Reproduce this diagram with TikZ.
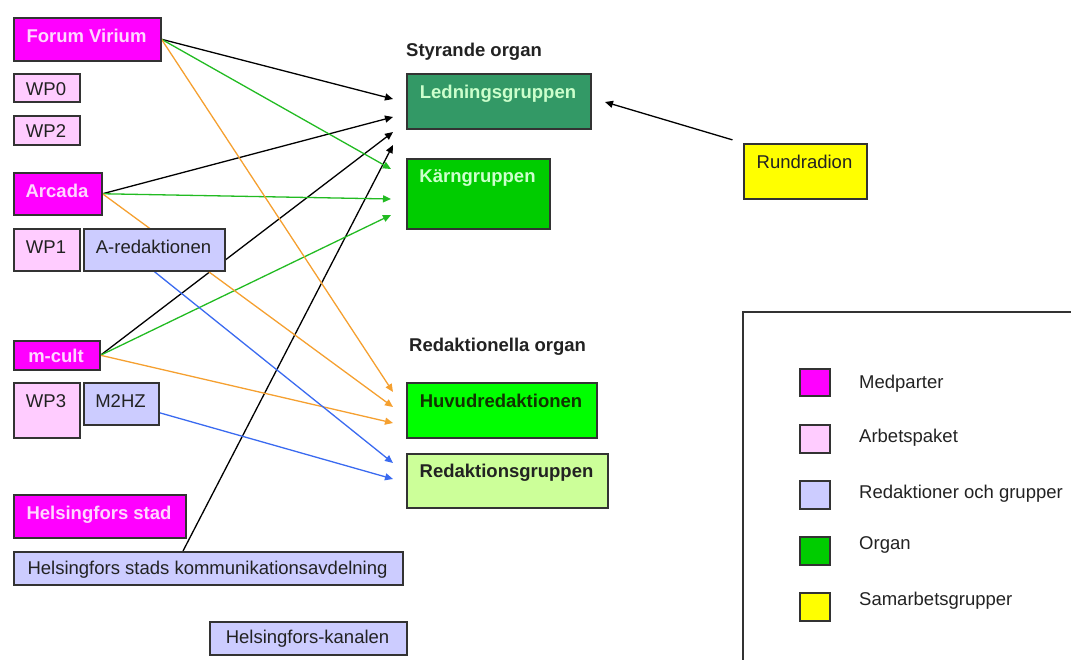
\documentclass[tikz,border=0pt]{standalone}
\usepackage{fontspec}
\setmainfont{Liberation Sans}
\usetikzlibrary{arrows.meta,calc}
\definecolor{boxline}{HTML}{333333}
\definecolor{darktext}{HTML}{222222}
\definecolor{medM}{HTML}{FF00FF}
\definecolor{medText}{HTML}{FFD6FF}
\definecolor{wpPink}{HTML}{FFCCFF}
\definecolor{redBlue}{HTML}{CCCCFF}
\definecolor{lgGreen}{HTML}{339966}
\definecolor{kgGreen}{HTML}{00CC00}
\definecolor{hrGreen}{HTML}{00FF00}
\definecolor{rgGreen}{HTML}{CCFF99}
\definecolor{rundY}{HTML}{FFFF00}
\definecolor{paleGreen}{HTML}{CCFFCC}
\definecolor{hrText}{HTML}{113300}
\definecolor{lnGreen}{HTML}{22BB22}
\definecolor{lnOrange}{HTML}{F5A030}
\definecolor{lnBlue}{HTML}{3A6AF0}
\newcommand{\fs}{\fontsize{18.5}{22}\selectfont}
\newcommand{\bx}[6]{\node[#6, minimum width={(#4-#2)*1pt}, minimum height={(#5-#3)*1pt}] (#1) at (#2,#3) {};}
\pgfdeclarelayer{bg}
\pgfsetlayers{bg,main}
\tikzset{
  box/.style={draw=boxline, line width=1.5pt, inner sep=0pt, anchor=north west},
  med/.style={box, fill=medM},
  wp/.style={box, fill=wpPink},
  red/.style={box, fill=redBlue},
  txt/.style={anchor=base, font=\fs, text=darktext, inner sep=0pt},
  btxt/.style={txt, font=\fs\bfseries},
  mtxt/.style={btxt, text=medText},
  legtxt/.style={txt, anchor=base west},
  arr/.style={line width=1.3pt, -{Triangle[length=8pt,width=7pt]}},
}
\begin{document}
\begin{tikzpicture}[x=1pt,y=-1pt]
\useasboundingbox (0,0) rectangle (1071,659);
\clip (0,0) rectangle (1071,659);

% left column boxes
\bx{fv}{13}{17}{160}{60}{med}
\bx{wp0}{13}{73}{79}{101}{wp}
\bx{wp2}{13}{115}{79}{144}{wp}
\bx{arc}{13}{172}{101}{214}{med}
\bx{wp1}{13}{228}{79}{270}{wp}
\bx{ared}{83}{228}{224}{270}{red}
\bx{mc}{13}{340}{99}{369}{med}
\bx{wp3}{13}{382}{79}{437}{wp}
\bx{m2hz}{83}{382}{158}{424}{red}
\bx{hs}{13}{494}{185}{537}{med}
\bx{hsk}{13}{551}{402}{584}{red}
\bx{hkan}{209}{621}{406}{654}{red}
% organs
\bx{lg}{406}{73}{590}{128}{box, fill=lgGreen}
\bx{kg}{406}{158}{549}{228}{box, fill=kgGreen}
\bx{hr}{406}{382}{596}{437}{box, fill=hrGreen}
\bx{rg}{406}{453}{607}{507}{box, fill=rgGreen}
\bx{rund}{743}{143}{866}{198}{box, fill=rundY}

% texts
\node[mtxt] (fvT) at (86.5,42) {Forum Virium};
\node[txt] (wp0T) at (46,95) {WP0};
\node[txt] (wp2T) at (46,137) {WP2};
\node[mtxt] (arcT) at (57,197) {Arcada};
\node[txt] (wp1T) at (46,253) {WP1};
\node[txt] (aredT) at (153.5,253) {A-redaktionen};
\node[mtxt] (mcT) at (56,362) {m-cult};
\node[txt] (wp3T) at (46,407) {WP3};
\node[txt] (m2hzT) at (120.5,407) {M2HZ};
\node[mtxt] (hsT) at (99,519) {Helsingfors stad};
\node[txt] (hskT) at (207.5,574) {Helsingfors stads kommunikationsavdelning};
\node[txt] (hkanT) at (307.5,643) {Helsingfors-kanalen};

\node[btxt, anchor=base west] (styT) at (406,56) {Styrande organ};
\node[btxt, anchor=base west] (redoT) at (409,351) {Redaktionella organ};
\node[btxt, text=paleGreen] (lgT) at (498,98) {Ledningsgruppen};
\node[btxt, text=paleGreen] (kgT) at (477.5,182) {Kärngruppen};
\node[btxt, text=hrText] (hrT) at (501,407) {Huvudredaktionen};
\node[btxt] (rgT) at (506.5,477) {Redaktionsgruppen};
\node[txt] (rundT) at (804.5,168) {Rundradion};

% legend
\draw[draw=boxline, line width=1.5pt] (743,312) rectangle (1090,680);
\bx{l1}{799}{368}{829}{395}{box, fill=medM}
\bx{l2}{799}{424}{829}{452}{box, fill=wpPink}
\bx{l3}{799}{480}{829}{508}{box, fill=redBlue}
\bx{l4}{799}{536}{829}{564}{box, fill=kgGreen}
\bx{l5}{799}{592}{829}{620}{box, fill=rundY}
\node[legtxt] (l1T) at (859,388) {Medparter};
\node[legtxt] (l2T) at (859,442) {Arbetspaket};
\node[legtxt] (l3T) at (859,498) {Redaktioner och grupper};
\node[legtxt] (l4T) at (859,549) {Organ};
\node[legtxt] (l5T) at (859,605) {Samarbetsgrupper};

% arrow tips
\coordinate (tL1) at (393,99);
\coordinate (tL2) at (393,117);
\coordinate (tL3) at (393,132);
\coordinate (tL4) at (393,145);
\coordinate (tK1) at (391,169);
\coordinate (tK2) at (391,199);
\coordinate (tK3) at (391,215);
\coordinate (tH1) at (393,392);
\coordinate (tH2) at (393,407);
\coordinate (tH3) at (393,423);
\coordinate (tR1) at (393,463);
\coordinate (tR2) at (393,479);
\coordinate (tLR) at (605,102);
\coordinate (hskTop) at ($(hsk.north west)+(170,0)$);
\coordinate (m2hzOut) at ($(m2hz.east)+(0,9)$);

\begin{pgfonlayer}{bg}
\draw[arr, black] (fv.east) -- (tL1);
\draw[arr, black] (arc.east) -- (tL2);
\draw[arr, black] (mc.east) -- (tL3);
\draw[arr, black] (hskTop) -- (tL4);
\draw[arr, black, shorten <=11pt] (rund.north west) -- (tLR);
\draw[arr, lnGreen] (fv.east) -- (tK1);
\draw[arr, lnGreen] (arc.east) -- (tK2);
\draw[arr, lnGreen] (mc.east) -- (tK3);
\draw[arr, lnOrange] (fv.east) -- (tH1);
\draw[arr, lnOrange] (arc.east) -- (tH2);
\draw[arr, lnOrange] (mc.east) -- (tH3);
\draw[arr, lnBlue] (ared.south) -- (tR1);
\draw[arr, lnBlue] (m2hzOut) -- (tR2);
\end{pgfonlayer}
\end{tikzpicture}
\end{document}
